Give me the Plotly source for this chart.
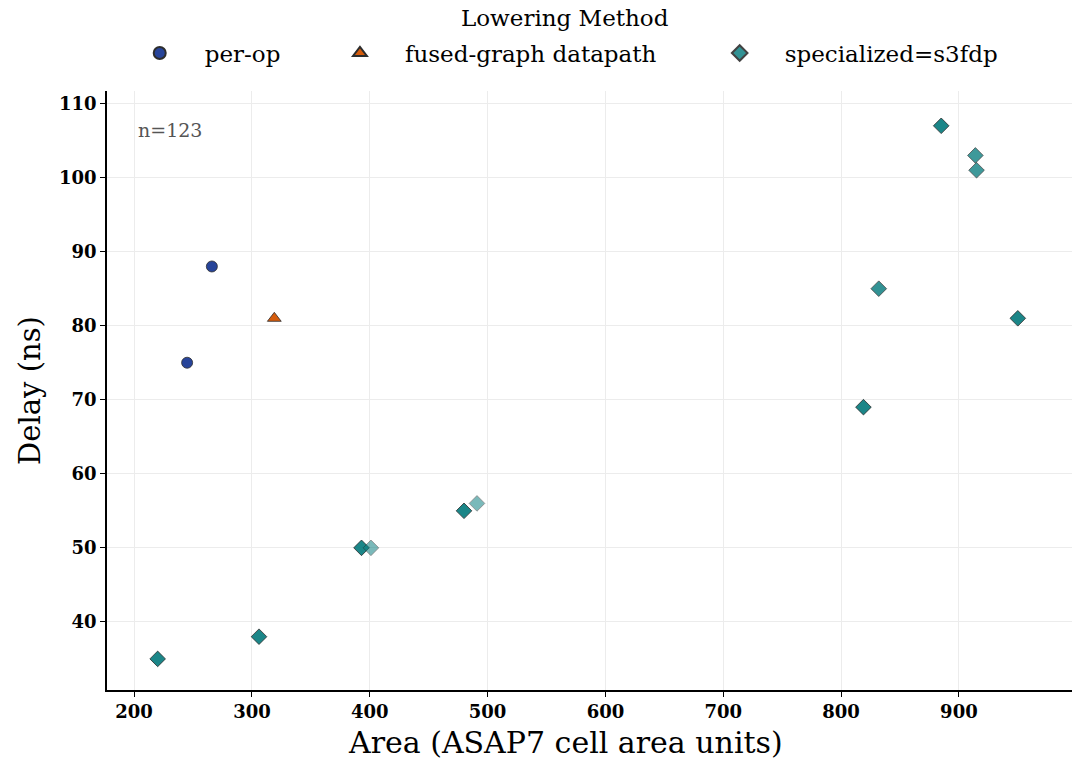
import plotly.graph_objects as go

# ---- data ----
perop_area = [245, 266]
perop_delay = [75, 88]
perop_alpha = [0.95, 0.95]

fused_area = [319]
fused_delay = [81]
fused_alpha = [0.95]

spec_area = [220, 306, 393, 401, 480, 491, 819, 832, 885, 914, 915, 950]
spec_delay = [35, 38, 50, 50, 55, 56, 69, 85, 107, 103, 101, 81]
spec_alpha = [0.95, 0.95, 0.95, 0.55, 0.95, 0.55, 0.95, 0.85, 0.95, 0.8, 0.8, 0.95]

x_ticks = [200, 300, 400, 500, 600, 700, 800, 900]
y_ticks = [40, 50, 60, 70, 80, 90, 100, 110]
n_label = "n=123"
legend_title = "Lowering Method"
x_title = "Area (ASAP7 cell area units)"
y_title = "Delay (ns)"

FONT = "DejaVu Serif"
BLUE = "#1c3a94"
ORANGE = "#d35400"
TEAL = "#0f8082"
EDGE = "#222222"

fig = go.Figure()
fig.add_trace(go.Scatter(
    x=perop_area, y=perop_delay, mode="markers", name="per-op", legend="legend",
    marker=dict(symbol="circle", size=11, color=BLUE, opacity=perop_alpha,
                line=dict(color=EDGE, width=0.8)),
))
fig.add_trace(go.Scatter(
    x=fused_area, y=fused_delay, mode="markers", name="fused-graph datapath",
    legend="legend2",
    marker=dict(symbol="triangle-up", size=12, color=ORANGE, opacity=fused_alpha,
                line=dict(color=EDGE, width=0.8)),
))
fig.add_trace(go.Scatter(
    x=spec_area, y=spec_delay, mode="markers", name="specialized=s3fdp",
    legend="legend3",
    marker=dict(symbol="diamond", size=12, color=TEAL, opacity=spec_alpha,
                line=dict(color=EDGE, width=0.8)),
))

fig.add_annotation(
    text=n_label, xref="paper", yref="paper", x=0.03, y=0.935,
    xanchor="left", yanchor="middle", showarrow=False,
    font=dict(family=FONT, size=19, color="#555555"),
)
fig.add_annotation(
    text=legend_title, xref="paper", yref="paper", x=0.475, y=1.122,
    xanchor="center", yanchor="middle", showarrow=False,
    font=dict(family=FONT, size=23, color="black"),
)
fig.add_annotation(
    text=x_title, xref="paper", yref="paper", x=0.475, y=-0.087,
    xanchor="center", yanchor="middle", showarrow=False,
    font=dict(family=FONT, size=30, color="black"),
)

axis_common = dict(
    showline=True, linecolor="black", linewidth=1.6,
    ticks="outside", ticklen=5, tickwidth=1.4, tickcolor="black",
    showgrid=True, gridcolor="#ececec", gridwidth=1,
    zeroline=False, mirror=False,
    tickfont=dict(family=FONT, size=18, color="black", weight=600),
)

leg_common = dict(
    orientation="h", yanchor="middle", y=1.0634, xanchor="left",
    font=dict(family=FONT, size=23), itemsizing="constant", itemwidth=80,
    bgcolor="rgba(0,0,0,0)",
)

fig.update_layout(
    width=1079, height=759,
    margin=dict(l=107, r=7, t=91, b=69),
    paper_bgcolor="white", plot_bgcolor="white",
    font=dict(family=FONT, color="black"),
    showlegend=True,
    legend=dict(leg_common, x=0.008),
    legend2=dict(leg_common, x=0.2155),
    legend3=dict(leg_common, x=0.609),
    xaxis=dict(axis_common, range=[177, 996], tickvals=x_ticks),
    yaxis=dict(axis_common, range=[30.8, 111.7], tickvals=y_ticks,
               title=dict(text=y_title,
                          font=dict(family=FONT, size=29), standoff=10)),
)

fig.write_html("out.html")
